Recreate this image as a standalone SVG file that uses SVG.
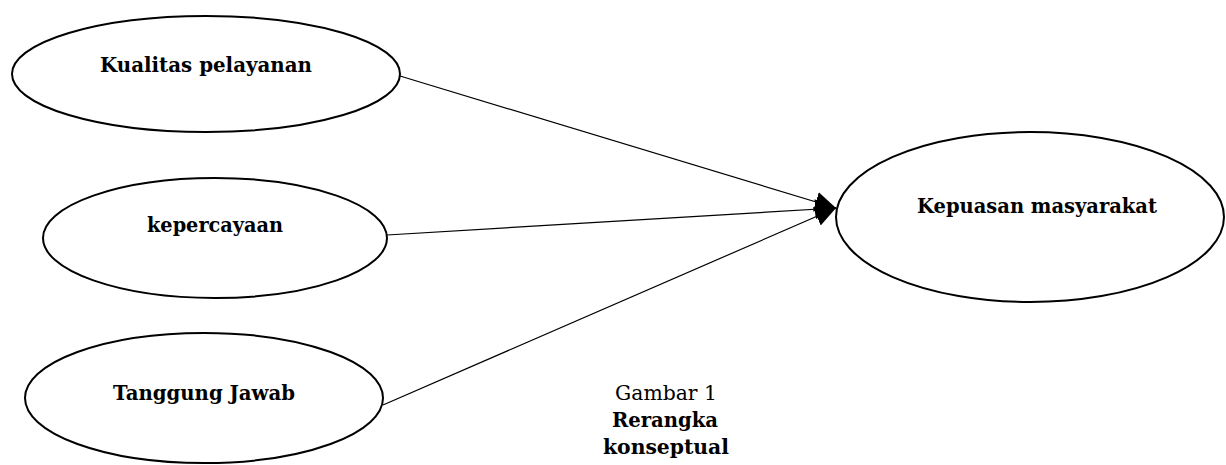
<svg xmlns="http://www.w3.org/2000/svg" width="1226" height="465" viewBox="0 0 1226 465">
<style>
.node ellipse{fill:#fff;stroke:#000;stroke-width:2}
.lbl{font-family:"DejaVu Serif","Liberation Serif",serif;font-weight:bold;font-size:21px;fill:#000;text-anchor:middle}
.cap{font-family:"DejaVu Serif","Liberation Serif",serif;font-size:21px;fill:#000;text-anchor:middle}
.conn line{stroke:#000;stroke-width:1.2;fill:none}
</style>
<defs>
<marker id="arr" markerUnits="userSpaceOnUse" markerWidth="22" markerHeight="22" refX="21" refY="11" orient="auto" viewBox="0 0 22 22">
<path d="M0,1 L21,11 L0,21 Z" fill="#000"/>
</marker>
</defs>
<g class="conn">
<line x1="400" y1="76" x2="836" y2="208" marker-end="url(#arr)"/>
<line x1="387" y1="235" x2="836" y2="208" marker-end="url(#arr)"/>
<line x1="383" y1="405" x2="836" y2="208" marker-end="url(#arr)"/>
</g>
<g id="kualitas" class="node">
<ellipse cx="206" cy="74" rx="194" ry="58"/>
<text class="lbl" x="206" y="72" textLength="212" lengthAdjust="spacingAndGlyphs">Kualitas pelayanan</text>
</g>
<g id="kepercayaan" class="node">
<ellipse cx="215" cy="238" rx="172" ry="60"/>
<text class="lbl" x="215" y="232" textLength="136" lengthAdjust="spacingAndGlyphs">kepercayaan</text>
</g>
<g id="tanggung" class="node">
<ellipse cx="204" cy="398" rx="179" ry="65"/>
<text class="lbl" x="204" y="400" textLength="182" lengthAdjust="spacingAndGlyphs">Tanggung Jawab</text>
</g>
<g id="kepuasan" class="node">
<ellipse cx="1030" cy="217" rx="194" ry="85"/>
<text class="lbl" x="1037" y="213" textLength="240" lengthAdjust="spacingAndGlyphs">Kepuasan masyarakat</text>
</g>
<g id="caption">
<text class="cap" x="666" y="400" textLength="102" lengthAdjust="spacingAndGlyphs">Gambar 1</text>
<text class="cap" x="665" y="427" font-weight="bold" textLength="106" lengthAdjust="spacingAndGlyphs">Rerangka</text>
<text class="cap" x="666" y="454" font-weight="bold" textLength="126" lengthAdjust="spacingAndGlyphs">konseptual</text>
</g>
</svg>
